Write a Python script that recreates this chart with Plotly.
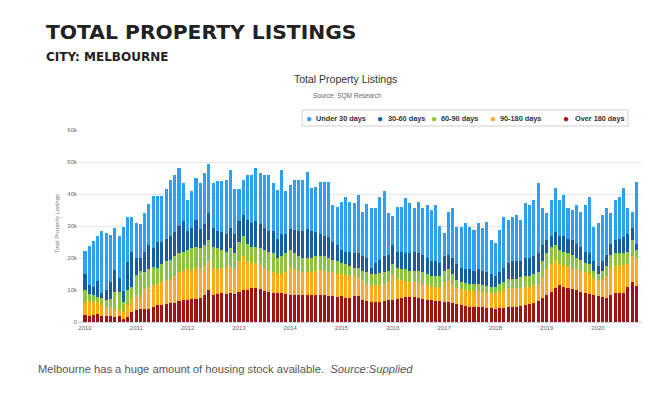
import plotly.graph_objects as go
import pandas as pd

# ---- data (thousands of listings), monthly Jan 2010 - Oct 2020 ----
months = pd.date_range("2010-01-01", periods=130, freq="MS")
years = [str(y) for y in range(2010, 2021)]

under_30 = [
    7.2, 12.3, 14.3, 14.2, 19.1, 18.0, 14.7, 13.1, 13.4, 20.2, 14.1, 10.9,
    11.1, 10.6, 12.1, 13.0, 16.5, 14.5, 14.5, 15.5, 17.5, 18.0, 18.0, 12.0,
    9.5, 11.5, 13.0, 14.5, 16.0, 15.5, 14.0, 15.5, 16.0, 17.0, 18.0, 14.0,
    10.0, 10.9, 14.0, 15.0, 16.5, 16.0, 16.5, 17.5, 14.9, 15.3, 20.0, 13.3,
    13.8, 15.7, 15.9, 15.9, 18.0, 13.3, 14.3, 16.4, 16.9, 17.4, 11.6, 12.0,
    15.0, 17.0, 15.6, 15.6, 18.2, 14.0, 16.8, 18.5, 17.0, 19.7, 20.3, 13.0,
    9.0, 14.0, 14.0, 17.4, 15.6, 13.5, 16.1, 14.5, 16.6, 16.0, 17.6, 11.5,
    7.2, 13.5, 15.5, 11.8, 12.8, 14.3, 13.3, 12.7, 14.3, 13.3, 15.8, 10.6,
    10.1, 13.2, 15.9, 13.4, 13.9, 14.4, 12.9, 17.1, 16.6, 17.6, 21.8, 11.5,
    8.5, 11.1, 13.8, 11.1, 12.7, 9.5, 9.5, 12.0, 11.0, 14.5, 17.7, 10.8,
    13.3, 14.4, 14.5, 9.5, 12.6, 13.2, 15.3, 8.0, 5.0, 19.4,
]
d30_60 = [
    4.9, 2.6, 2.6, 4.9, 1.7, 3.1, 5.2, 6.7, 4.2, 3.3, 8.9, 10.9,
    5.3, 3.9, 6.2, 7.3, 5.8, 8.0, 7.0, 7.0, 7.5, 7.5, 8.5, 9.5,
    6.0, 6.5, 8.5, 6.0, 6.5, 8.5, 6.0, 5.5, 5.5, 5.5, 6.5, 6.0,
    6.5, 6.5, 7.5, 7.5, 8.0, 7.5, 7.0, 6.5, 7.0, 6.0, 7.0, 6.0,
    6.5, 7.2, 8.0, 8.5, 9.0, 8.5, 7.5, 7.0, 6.5, 6.5, 5.5, 5.0,
    4.0, 4.0, 4.5, 4.5, 4.5, 4.5, 4.5, 2.0, 3.5, 4.3, 5.0, 5.0,
    6.0, 5.0, 5.5, 5.0, 5.5, 6.0, 5.5, 5.5, 5.0, 4.5, 4.5, 4.0,
    4.5, 4.5, 5.0, 5.0, 4.5, 4.3, 4.5, 4.0, 4.5, 4.5, 4.3, 4.0,
    3.5, 3.5, 4.5, 5.0, 5.5, 5.5, 5.0, 5.5, 5.5, 5.5, 6.0, 5.0,
    4.0, 3.5, 4.0, 4.5, 5.0, 4.5, 4.5, 4.5, 4.0, 3.5, 3.5, 3.0,
    2.5, 3.0, 3.5, 3.5, 4.0, 4.5, 5.0, 5.5, 4.0, 2.0,
]
d60_90 = [
    3.8, 2.4, 2.1, 1.7, 2.3, 2.1, 2.6, 5.3, 5.2, 3.2, 4.2, 3.7,
    6.2, 8.2, 5.3, 5.7, 5.7, 5.0, 5.5, 6.0, 6.0, 6.0, 6.0, 6.0,
    6.0, 7.0, 6.5, 6.5, 6.5, 6.5, 6.5, 6.5, 5.5, 5.2, 5.7, 5.0,
    6.0, 6.5, 5.5, 5.0, 5.0, 5.0, 5.5, 6.0, 6.0, 5.0, 5.5, 6.0,
    5.7, 5.0, 4.5, 4.5, 4.5, 4.5, 4.5, 4.3, 4.5, 4.5, 4.0, 4.0,
    3.5, 3.2, 3.0, 2.5, 3.0, 3.0, 3.5, 3.5, 3.5, 3.7, 3.5, 3.5,
    3.0, 3.5, 3.5, 4.0, 3.5, 3.5, 3.7, 3.5, 3.5, 3.5, 3.5, 3.5,
    3.5, 3.7, 3.0, 2.5, 2.5, 2.2, 2.2, 2.2, 2.2, 2.0, 2.0, 2.0,
    2.2, 2.5, 2.5, 3.0, 3.0, 3.0, 3.5, 3.5, 3.5, 3.5, 3.5, 5.0,
    5.0, 5.5, 4.5, 4.5, 4.5, 4.0, 4.0, 3.5, 3.5, 3.0, 3.0, 2.5,
    2.0, 2.5, 3.0, 4.0, 4.0, 4.0, 3.7, 4.0, 5.0, 2.6,
]
d90_180 = [
    4.0, 4.6, 4.2, 3.6, 3.3, 2.9, 2.9, 2.5, 2.4, 2.3, 4.1, 4.2,
    4.7, 3.8, 6.2, 6.8, 6.8, 6.8, 7.2, 7.5, 7.7, 8.5, 9.0, 9.2,
    9.5, 8.8, 9.7, 9.0, 9.0, 9.0, 8.5, 7.7, 8.0, 8.0, 8.3, 7.7,
    9.5, 10.5, 9.0, 8.0, 8.0, 7.7, 7.2, 6.5, 6.3, 6.0, 6.0, 6.7,
    8.3, 8.1, 7.6, 7.1, 7.1, 7.1, 7.6, 7.8, 7.7, 7.3, 7.5, 7.2,
    7.0, 7.3, 7.0, 6.5, 6.0, 6.0, 5.5, 5.2, 5.2, 5.2, 5.5, 5.7,
    8.0, 6.3, 5.5, 4.7, 4.7, 4.7, 4.8, 4.7, 4.5, 4.2, 4.3, 4.5,
    6.2, 6.6, 6.0, 5.0, 4.8, 5.0, 5.0, 5.1, 5.1, 4.9, 4.7, 4.7,
    4.6, 5.2, 5.5, 5.9, 5.8, 5.7, 5.5, 5.8, 5.5, 5.7, 5.5, 6.5,
    8.0, 8.5, 9.0, 6.5, 6.5, 7.0, 6.7, 6.5, 6.5, 6.3, 6.2, 5.2,
    5.0, 5.7, 7.0, 8.5, 8.5, 8.5, 8.6, 7.0, 8.0, 8.6,
]
over_180 = [
    2.3, 1.9, 2.1, 2.5, 1.9, 1.8, 1.8, 1.7, 1.8, 0.8, 1.6, 3.1,
    3.7, 4.0, 4.2, 4.2, 4.7, 5.2, 5.3, 5.5, 5.8, 6.0, 6.5, 6.8,
    7.0, 7.2, 7.3, 7.5, 8.5, 10.0, 8.5, 8.8, 9.0, 8.8, 9.0, 8.8,
    9.5, 10.0, 10.0, 10.5, 10.5, 10.3, 9.8, 9.5, 9.2, 9.0, 9.0, 8.8,
    8.5, 8.4, 8.4, 8.4, 8.4, 8.4, 8.4, 8.4, 8.3, 8.2, 8.0, 7.8,
    8.0, 7.5, 7.5, 8.0, 8.0, 7.0, 6.5, 6.3, 6.3, 6.3, 6.5, 6.8,
    7.0, 7.2, 7.5, 7.8, 7.8, 7.8, 7.5, 7.3, 7.0, 6.8, 6.7, 6.5,
    6.3, 6.2, 6.0, 5.5, 5.2, 5.0, 4.8, 4.7, 4.7, 4.6, 4.5, 4.3,
    4.2, 4.3, 4.5, 4.6, 4.7, 4.8, 5.0, 5.2, 5.5, 5.8, 6.5, 7.5,
    8.5, 9.5, 10.5, 11.5, 11.0, 10.5, 10.3, 10.0, 9.5, 9.2, 8.8, 8.3,
    8.0, 7.8, 7.5, 8.5, 9.0, 9.0, 9.2, 11.0, 12.5, 11.3,
]

y_ticks = [0, 10, 20, 30, 40, 50, 60]
y_tick_text = ["0", "10k", "20k", "30k", "40k", "50k", "60k"]

series = [
    ("Under 30 days", under_30, "#2e9ff2"),
    ("30-60 days", d30_60, "#175d9f"),
    ("60-90 days", d60_90, "#8cc43f"),
    ("90-180 days", d90_180, "#ffab20"),
    ("Over 180 days", over_180, "#a11212"),
]

# ---- layout geometry (page pixels; the page body adds an 8px offset) ----
OFF = 8
W, H = 650, 395
L, R, T, B = 78, 642, 130, 322          # plot area in page pixels
PW, PH = R - L, B - T


def px(x):
    return (x - L) / PW


def py(y):
    return (B - y) / PH


fig = go.Figure()
for name, vals, color in reversed(series):
    fig.add_trace(go.Bar(
        x=months, y=vals, name=name,
        marker=dict(color=color, line=dict(width=0)),
        showlegend=False,
    ))

annotations = [
    dict(text="<b>TOTAL PROPERTY LISTINGS</b>", x=px(44), y=py(32),
         xanchor="left", yanchor="middle",
         font=dict(family="DejaVu Sans", size=20.3, color="#222222")),
    dict(text="<b>CITY: MELBOURNE</b>", x=px(44), y=py(57),
         xanchor="left", yanchor="middle",
         font=dict(family="DejaVu Sans", size=12, color="#222222")),
    dict(text="Total Property Listings", x=px(345), y=py(79),
         xanchor="center", yanchor="middle",
         font=dict(family="Liberation Sans", size=10.5, color="#333333")),
    dict(text="Source: SQM Research", x=px(347), y=py(96),
         xanchor="center", yanchor="middle",
         font=dict(family="Liberation Sans", size=6.5, color="#666666")),
    dict(text="Total Property Listings", x=px(57), y=py(224), textangle=-90,
         xanchor="center", yanchor="middle",
         font=dict(family="Liberation Sans", size=6, color="#777777")),
    dict(text="Melbourne has a huge amount of housing stock available.&nbsp; <i>Source:Supplied</i>",
         x=px(36), y=py(369), xanchor="left", yanchor="middle",
         font=dict(family="Liberation Sans", size=11.2, color="#555555")),
]

legend_dot_x = [309, 380, 434, 493, 566]
legend_text_x = [314, 386, 439, 498, 573]
legend_y = 118
for (name, vals, color), dx, tx in zip(series, legend_dot_x, legend_text_x):
    annotations.append(dict(text="●", x=px(dx), y=py(legend_y), xanchor="center",
                            yanchor="middle", font=dict(size=10, color=color)))
    annotations.append(dict(text="<b>" + name + "</b>", x=px(tx), y=py(legend_y),
                            xanchor="left", yanchor="middle",
                            font=dict(family="Liberation Sans", size=7.3, color="#333333")))
for a in annotations:
    a.update(xref="paper", yref="paper", showarrow=False)

shapes = [dict(type="rect", xref="paper", yref="paper",
               x0=px(302), x1=px(628), y0=py(110), y1=py(126),
               line=dict(color="#d0d0d0", width=1), fillcolor="rgba(0,0,0,0)")]

fig.update_layout(
    barmode="stack", bargap=0.22,
    width=W, height=H,
    margin=dict(l=L - OFF, r=W - (R - OFF), t=T - OFF, b=H - (B - OFF)),
    paper_bgcolor="white", plot_bgcolor="white",
    font=dict(family="Liberation Sans", color="#666666"),
    annotations=annotations, shapes=shapes,
    showlegend=False,
    xaxis=dict(type="date", range=["2009-11-12", "2020-11-09"],
               tickvals=[y + "-01-01" for y in years], ticktext=years,
               showgrid=False, showline=True, linecolor="#ccd6eb", linewidth=1,
               ticks="", tickfont=dict(size=6, color="#666666")),
    yaxis=dict(range=[0, 60], tickvals=y_ticks, ticktext=y_tick_text,
               showgrid=True, gridcolor="#e6e6e6", gridwidth=1, zeroline=False,
               ticks="", tickfont=dict(size=6, color="#666666")),
)

fig.write_html("out.html")
